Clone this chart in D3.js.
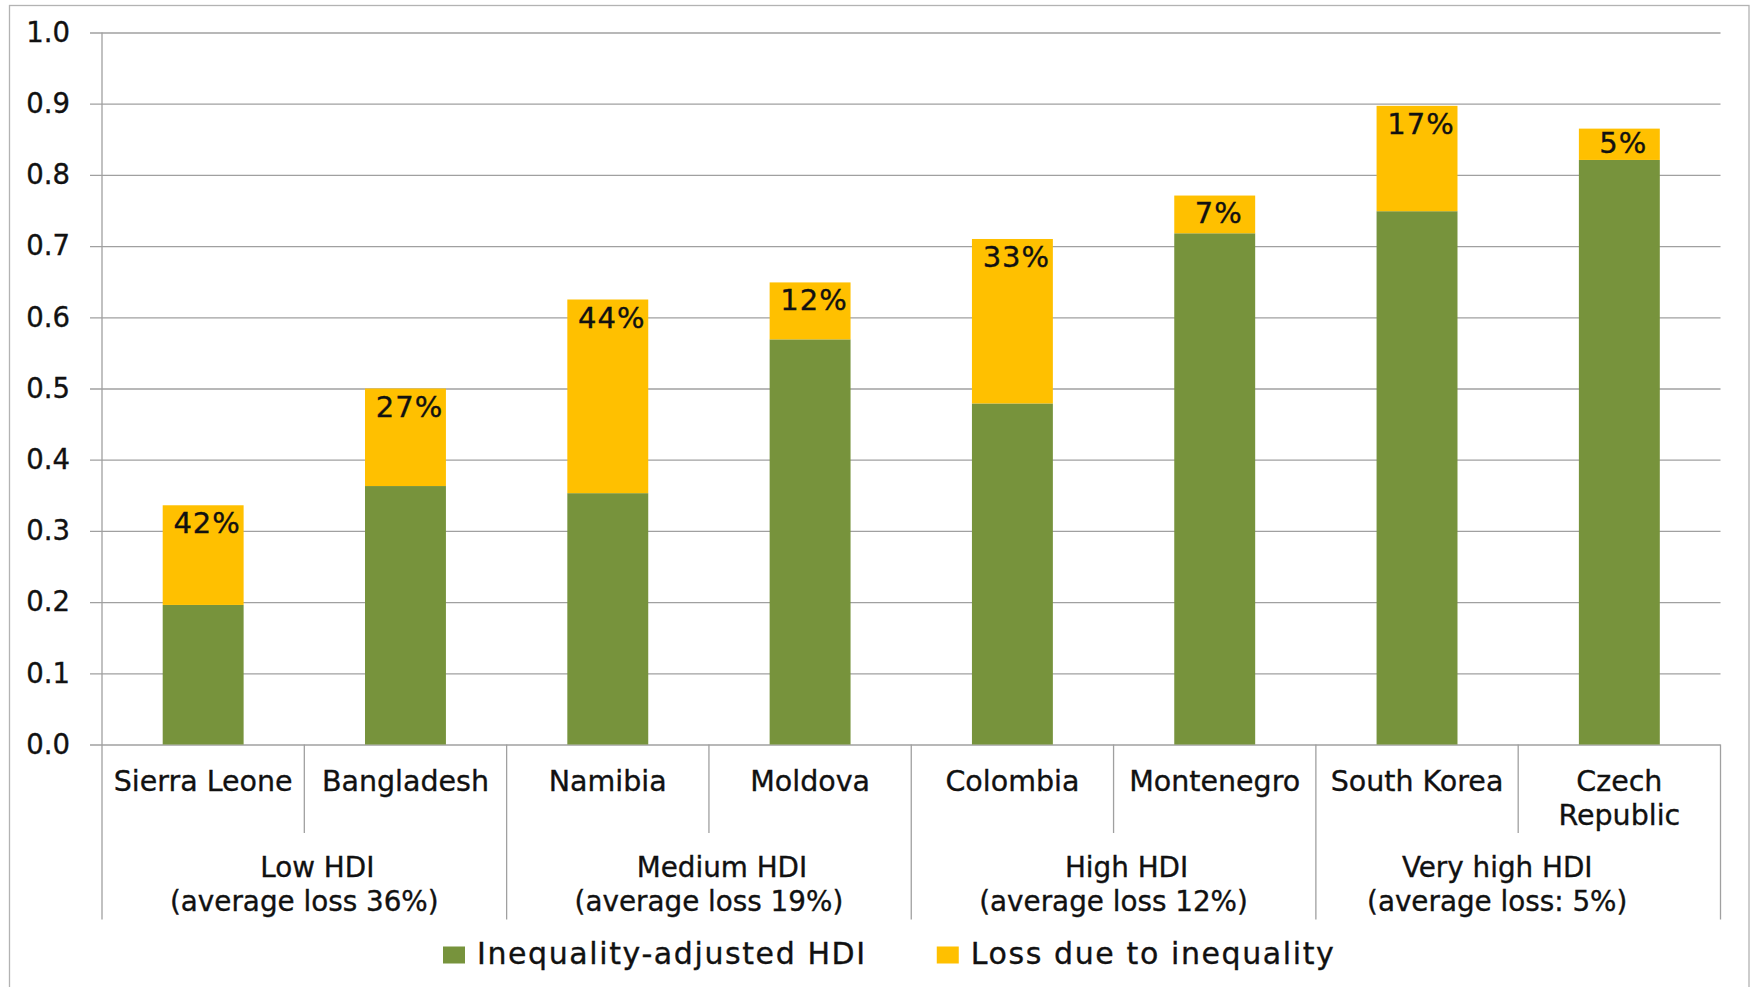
<!DOCTYPE html>
<html>
<head>
<meta charset="utf-8">
<script src="https://cdn.jsdelivr.net/npm/d3@7/dist/d3.min.js"></script>
<style>
  html, body { margin: 0; padding: 0; background: #ffffff; }
  svg { display: block; }
  text { font-family: "DejaVu Sans", Verdana, sans-serif; fill: #111; stroke: #111; stroke-width: 0.35px; }
</style>
</head>
<body>
<svg id="chart" width="1754" height="987"></svg>
<script>
// ---------- data ----------
const countries = ["Sierra Leone", "Bangladesh", "Namibia", "Moldova", "Colombia", "Montenegro", "South Korea", "Czech Republic"];
const ihdiValues = [0.196, 0.363, 0.353, 0.569, 0.479, 0.718, 0.749, 0.821];
const lossValues = [0.140, 0.137, 0.272, 0.080, 0.231, 0.053, 0.148, 0.044];
const lossLabels = ["42%", "27%", "44%", "12%", "33%", "7%", "17%", "5%"];
const groupNames = ["Low HDI", "Medium HDI", "High HDI", "Very high HDI"];
const groupNotes = ["(average loss 36%)", "(average loss 19%)", "(average loss 12%)", "(average loss: 5%)"];
const groupSizes = [2, 2, 2, 2];
const seriesNames = ["Inequality-adjusted HDI", "Loss due to inequality"];
const yTicks = [0.0, 0.1, 0.2, 0.3, 0.4, 0.5, 0.6, 0.7, 0.8, 0.9, 1.0];

// ---------- layout / style ----------
const colors = ["#77933C", "#FFC000"];
const gridColor = "#a0a0a0";
const fontSize = 27.5;
const catFontSize = 28.5;
const groupFontSize = 27.8;
const plotLeft = 102, plotRight = 1720.5, plotTop = 32.5, plotBottom = 744.5;
const catSepBottom = 833, groupSepBottom = 919.5;
// small horizontal shifts of the group caption lines seen in the original
const groupLineShift = [[13, 0], [13, 0], [13, 0], [-21, -21]];

const svg = d3.select("#chart");

// outer frame
svg.append("rect")
  .attr("x", 9.5).attr("y", 5.5)
  .attr("width", 1739.5).attr("height", 1000)
  .attr("fill", "none").attr("stroke", "#b3b3b3").attr("stroke-width", 1.3);

const x = d3.scaleBand().domain(countries)
  .range([plotLeft, plotRight]).paddingInner(0.6).paddingOuter(0.3);
const y = d3.scaleLinear().domain([0, 1]).range([plotBottom, plotTop]);
const step = x.step();

// y axis with gridlines
const yAxis = d3.axisLeft(y).tickValues(yTicks).tickFormat(d3.format(".1f"))
  .tickSize(-(plotRight - plotLeft)).tickSizeOuter(0).tickPadding(32);
const gy = svg.append("g").attr("transform", `translate(${plotLeft},0)`).call(yAxis);
gy.select(".domain").remove();
gy.selectAll(".tick line").attr("stroke", gridColor).attr("stroke-width", 1.3).attr("x1", -12);
gy.selectAll(".tick text")
  .attr("font-size", fontSize).attr("fill", "#111")
  .style("font-family", '"DejaVu Sans", Verdana, sans-serif');

// y axis line extended down through the category area
svg.append("line").attr("x1", plotLeft).attr("x2", plotLeft)
  .attr("y1", plotTop).attr("y2", groupSepBottom)
  .attr("stroke", gridColor).attr("stroke-width", 1.3);

// stacked data
const rows = countries.map((c, i) => ({ country: c, ihdi: ihdiValues[i], loss: lossValues[i], label: lossLabels[i] }));
const stack = d3.stack().keys(["ihdi", "loss"]);
const stacked = stack(rows);

svg.append("g").selectAll("g").data(stacked).join("g")
  .attr("fill", (d, i) => colors[i])
  .selectAll("rect").data(d => d).join("rect")
  .attr("x", d => x(d.data.country))
  .attr("width", x.bandwidth())
  .attr("y", d => y(d[1]))
  .attr("height", d => y(d[0]) - y(d[1]));

// loss labels inside top of yellow segments
const lossLayer = stacked[1];
svg.append("g").selectAll("text").data(lossLayer).join("text")
  .attr("x", d => x(d.data.country) + x.bandwidth() / 2 + 4)
  .attr("y", d => {
    const top = y(d[1]);
    const h = y(d[0]) - y(d[1]);
    return top + Math.min(28, h / 2 + 9);
  })
  .attr("text-anchor", "middle")
  .attr("font-size", 29)
  .attr("letter-spacing", 1)
  .text(d => d.data.label);

// category separators
const sepG = svg.append("g");
countries.forEach((c, i) => {
  if (i === 0) return;
  const xs = plotLeft + i * step;
  const isGroupEdge = (i % 2 === 0);
  sepG.append("line")
    .attr("x1", xs).attr("x2", xs)
    .attr("y1", plotBottom).attr("y2", isGroupEdge ? groupSepBottom : catSepBottom)
    .attr("stroke", gridColor).attr("stroke-width", 1.3);
});
sepG.append("line").attr("x1", plotRight).attr("x2", plotRight)
  .attr("y1", plotBottom).attr("y2", groupSepBottom)
  .attr("stroke", gridColor).attr("stroke-width", 1.3);

// category labels (wrap if wider than band)
const catG = svg.append("g");
countries.forEach(c => {
  const cx = x(c) + x.bandwidth() / 2;
  const t = catG.append("text").attr("x", cx).attr("y", 791)
    .attr("text-anchor", "middle").attr("font-size", catFontSize).text(c);
  if (t.node().getComputedTextLength() > step - 4) {
    const words = c.split(" ");
    t.text(null);
    words.forEach((w, k) => {
      t.append("tspan").attr("x", cx).attr("dy", k === 0 ? 0 : 33.5).text(w);
    });
  }
});

// group labels
let start = 0;
const grpG = svg.append("g");
groupNames.forEach((g, gi) => {
  const n = groupSizes[gi];
  const gx = plotLeft + (start + n / 2) * step;
  grpG.append("text").attr("x", gx + groupLineShift[gi][0]).attr("y", 876.5)
    .attr("text-anchor", "middle").attr("font-size", groupFontSize).text(g);
  grpG.append("text").attr("x", gx + groupLineShift[gi][1]).attr("y", 910.5)
    .attr("text-anchor", "middle").attr("font-size", groupFontSize).text(groupNotes[gi]);
  start += n;
});

// legend
const legG = svg.append("g");
let lx = 443;
seriesNames.forEach((s, i) => {
  legG.append("rect").attr("x", lx).attr("y", 946.5).attr("width", 22).attr("height", 17)
    .attr("fill", colors[i]);
  const t = legG.append("text").attr("x", lx + 34).attr("y", 963.5)
    .attr("font-size", 30).attr("letter-spacing", 1.6).text(s);
  lx = lx + 34 + t.node().getComputedTextLength() + 70;
});
</script>
</body>
</html>
